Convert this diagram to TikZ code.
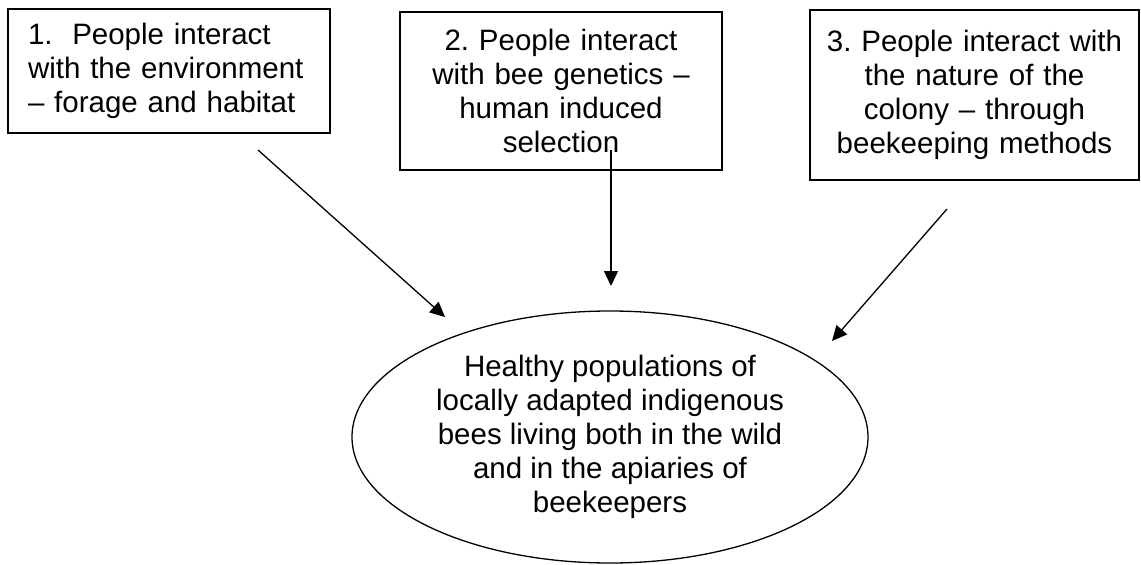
\documentclass[tikz,border=0pt]{standalone}
\usepackage{fontspec}
\setmainfont{Liberation Sans}
\usetikzlibrary{shapes.geometric,arrows.meta}
\begin{document}
\frenchspacing
\begin{tikzpicture}[x=1pt,y=-1pt,
  every node/.style={font=\fontsize{29.5}{34}\selectfont\frenchspacing},
  box/.style={draw,line width=1.3pt,inner sep=0pt,text width=#1,align=center},
  arr/.style={line width=1.3pt,-{Triangle[length=15pt,width=14pt]}}]
\useasboundingbox (0,0) rectangle (1141,565);
\node[box=282pt,align=left,inner xsep=20pt,minimum height=124pt] (b1) at (169,71)
  {1.~~People interact\\with the environment\\– forage and habitat};
\node[box=322pt,minimum height=158pt] (b2) at (561,91)
  {2. People interact\\with bee genetics –\\human induced\\selection};
\node[box=329pt,minimum height=170pt] (b3) at (974.5,95)
  {3. People interact with\\the nature of the\\colony – through\\beekeeping methods};
\node[draw,ellipse,line width=1.3pt,inner sep=0pt,minimum width=516pt,minimum height=252pt,align=center] (goal) at (610,437)
  {Healthy populations of\\locally adapted indigenous\\bees living both in the wild\\and in the apiaries of\\beekeepers};
\coordinate (a1s) at (258,150);
\coordinate (a1e) at (445,317);
\coordinate (a2s) at (611,150);
\coordinate (a2e) at (611,286);
\coordinate (a3s) at (947,209);
\coordinate (a3e) at (832,341);
\draw[arr] (a1s) -- (a1e);
\draw[arr] (a2s) -- (a2e);
\draw[arr] (a3s) -- (a3e);
\end{tikzpicture}
\end{document}
